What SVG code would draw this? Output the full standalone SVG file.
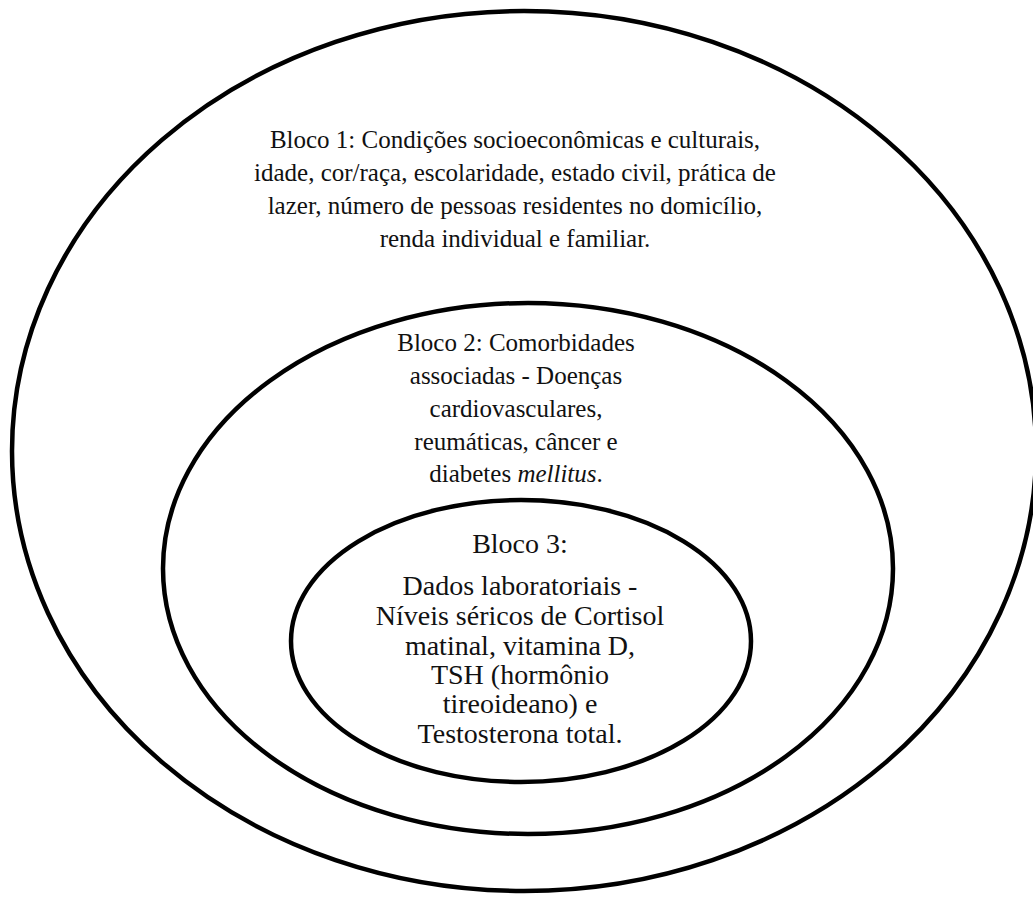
<svg xmlns="http://www.w3.org/2000/svg" width="1033" height="897" viewBox="0 0 1033 897">
<style>
.ring{fill:none;stroke:#000;stroke-width:4.5}
.t{font-family:"Liberation Serif","Times New Roman",serif;fill:#111;text-anchor:middle}
.t1{font-size:25px}
.t3{font-size:28px}
</style>
<rect width="1033" height="897" fill="#fff"/>
<g id="bloco1">
<ellipse class="ring" cx="524" cy="451" rx="512" ry="440"/>
<text class="t t1" x="515" y="148">Bloco 1: Condições socioeconômicas e culturais,</text>
<text class="t t1" x="515" y="181">idade, cor/raça, escolaridade, estado civil, prática de</text>
<text class="t t1" x="515" y="214">lazer, número de pessoas residentes no domicílio,</text>
<text class="t t1" x="515" y="247">renda individual e familiar.</text>
</g>
<g id="bloco2">
<ellipse class="ring" cx="528" cy="568.5" rx="365" ry="265.5"/>
<text class="t t1" x="516" y="351">Bloco 2: Comorbidades</text>
<text class="t t1" x="516" y="384">associadas - Doenças</text>
<text class="t t1" x="516" y="417">cardiovasculares,</text>
<text class="t t1" x="516" y="450">reumáticas, câncer e</text>
<text class="t t1" x="516" y="482">diabetes <tspan font-style="italic">mellitus</tspan>.</text>
</g>
<g id="bloco3">
<ellipse class="ring" cx="521" cy="641" rx="230" ry="141"/>
<text class="t t3" x="520" y="553">Bloco 3:</text>
<text class="t t3" x="520" y="595">Dados laboratoriais -</text>
<text class="t t3" x="520" y="625">Níveis séricos de Cortisol</text>
<text class="t t3" x="520" y="655">matinal, vitamina D,</text>
<text class="t t3" x="520" y="684">TSH (hormônio</text>
<text class="t t3" x="520" y="713">tireoideano) e</text>
<text class="t t3" x="520" y="743">Testosterona total.</text>
</g>
<g id="connectors"></g>
</svg>
